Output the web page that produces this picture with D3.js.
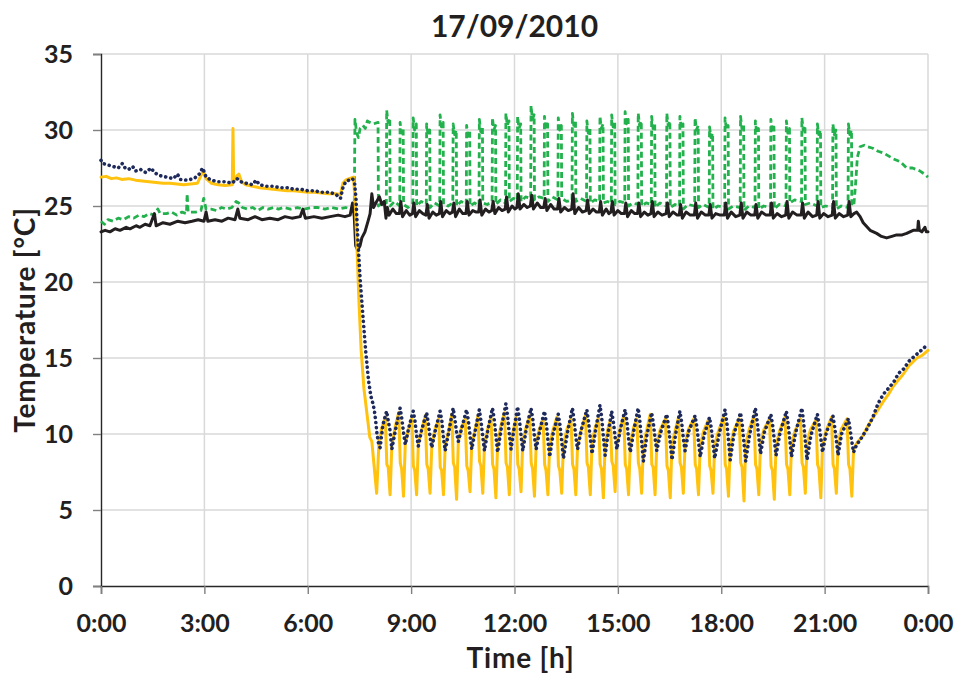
<!DOCTYPE html>
<html>
<head>
<meta charset="utf-8">
<script src="https://cdn.jsdelivr.net/npm/d3@7/dist/d3.min.js"></script>
<style>
  body { margin: 0; background: #ffffff; }
  svg { display: block; }
  text { font-family: Lato, "Open Sans", sans-serif; font-weight: 700; fill: #231f20; }
</style>
</head>
<body>
<svg id="chart" width="958" height="677"></svg>
<script>
// ---- chart text and ticks ----
const chartTitle = "17/09/2010";
const xTitle = "Time [h]";
const yTitle = "Temperature [°C]";
const xTickHours = [0, 3, 6, 9, 12, 15, 18, 21, 24];
const xTickLabels = ["0:00", "3:00", "6:00", "9:00", "12:00", "15:00", "18:00", "21:00", "0:00"];
const yTickValues = [0, 5, 10, 15, 20, 25, 30, 35];

// ---- measured temperatures: [hour of day, °C] ----
// gold solid line
const goldLine = [
  [0.00,26.9],[0.15,26.95],[0.30,26.8],[0.45,26.85],[0.60,26.75],[0.80,26.8],[1.00,26.7],[1.20,26.65],[1.40,26.6],[1.60,26.55],
  [1.80,26.5],[2.00,26.5],[2.20,26.45],[2.40,26.4],[2.60,26.45],[2.80,26.5],[2.92,27.1],[2.97,27.3],[3.05,26.8],[3.20,26.5],
  [3.40,26.4],[3.60,26.35],[3.81,26.4],[3.83,30.1],[3.85,26.6],[3.95,27.0],[4.00,27.1],[4.08,26.6],[4.20,26.4],[4.40,26.3],
  [4.60,26.2],[4.80,26.15],[5.00,26.1],[5.20,26.05],[5.40,26.0],[5.60,26.0],[5.80,25.95],[6.00,25.9],[6.20,25.9],[6.40,25.85],
  [6.60,25.8],[6.80,25.8],[6.95,25.75],[7.02,26.5],[7.10,26.7],[7.20,26.8],[7.33,26.9],[7.38,25.0],[7.43,22.2],[7.49,18.5],
  [7.55,15.5],[7.63,13.0],[7.72,11.3],[7.80,9.8],[7.86,9.5],[8.00,6.1],[8.07,9.6],[8.15,10.4],
  [8.25,11.1],[8.295,8.0],[8.335,7.8],[8.39,6.0],[8.44,9.2],[8.53,10.4],
  [8.64,11.4],[8.685,8.1],[8.725,7.7],[8.78,5.9],[8.83,9.3],[8.92,10.3],
  [9.02,11.0],[9.065,7.9],[9.105,7.6],[9.16,6.0],[9.21,9.4],[9.30,10.2],
  [9.41,11.2],[9.455,8.0],[9.495,7.7],[9.55,6.1],[9.60,9.2],[9.69,10.3],
  [9.80,11.0],[9.845,7.8],[9.885,7.6],[9.94,6.0],[9.99,9.3],[10.08,10.1],
  [10.18,11.3],[10.225,8.1],[10.265,7.8],[10.32,5.7],[10.37,9.5],[10.46,10.4],
  [10.57,11.0],[10.615,7.9],[10.655,7.6],[10.71,6.2],[10.76,9.3],[10.85,10.2],
  [10.94,11.2],[10.985,8.2],[11.025,7.9],[11.08,6.1],[11.13,9.4],[11.22,10.3],
  [11.32,11.1],[11.365,8.0],[11.405,7.7],[11.46,5.8],[11.51,9.3],[11.60,10.5],
  [11.71,11.4],[11.755,8.1],[11.795,7.8],[11.85,6.0],[11.90,9.6],[11.98,10.4],
  [12.05,11.1],[12.095,8.0],[12.135,7.7],[12.19,6.2],[12.24,9.5],[12.33,10.4],
  [12.44,11.2],[12.485,8.1],[12.525,7.7],[12.58,5.9],[12.63,9.4],[12.72,10.3],
  [12.83,11.0],[12.875,8.0],[12.915,7.6],[12.97,6.0],[13.02,9.2],[13.11,10.2],
  [13.23,11.1],[13.275,7.9],[13.315,7.6],[13.37,6.1],[13.42,9.3],[13.52,10.3],
  [13.64,11.0],[13.685,8.0],[13.725,7.7],[13.78,6.0],[13.83,9.2],[13.93,10.2],
  [14.06,11.2],[14.105,8.1],[14.145,7.8],[14.20,6.0],[14.25,9.4],[14.34,10.4],
  [14.44,11.1],[14.485,8.0],[14.525,7.7],[14.58,5.8],[14.63,9.3],[14.71,10.3],
  [14.78,10.9],[14.825,8.2],[14.865,7.9],[14.92,6.2],[14.97,9.4],[15.06,10.3],
  [15.17,11.2],[15.215,8.0],[15.255,7.7],[15.31,6.0],[15.36,9.3],[15.45,10.4],
  [15.55,11.0],[15.595,8.1],[15.635,7.7],[15.69,6.1],[15.74,9.2],[15.83,10.2],
  [15.94,11.3],[15.985,8.0],[16.025,7.8],[16.08,6.0],[16.13,9.4],[16.23,10.3],
  [16.38,11.0],[16.425,7.9],[16.465,7.6],[16.52,5.8],[16.57,9.3],[16.66,10.2],
  [16.76,11.1],[16.805,8.1],[16.845,7.8],[16.90,6.1],[16.95,9.4],[17.05,10.3],
  [17.20,11.0],[17.245,8.0],[17.285,7.7],[17.34,6.0],[17.39,9.2],[17.49,10.2],
  [17.62,10.9],[17.665,7.9],[17.705,7.6],[17.76,6.1],[17.81,9.3],[17.92,10.2],
  [18.07,11.1],[18.115,8.0],[18.155,7.7],[18.21,5.9],[18.26,9.2],[18.36,10.2],
  [18.52,11.0],[18.565,8.1],[18.605,7.8],[18.66,5.6],[18.71,9.3],[18.81,10.3],
  [18.95,11.2],[18.995,8.0],[19.035,7.7],[19.09,6.0],[19.14,9.4],[19.24,10.3],
  [19.40,11.0],[19.445,7.9],[19.485,7.6],[19.54,5.7],[19.59,9.2],[19.69,10.2],
  [19.85,11.1],[19.895,8.0],[19.935,7.7],[19.99,6.0],[20.04,9.3],[20.14,10.2],
  [20.30,11.0],[20.345,8.1],[20.385,7.8],[20.44,6.1],[20.49,9.4],[20.59,10.3],
  [20.75,10.9],[20.795,8.0],[20.835,7.7],[20.89,5.8],[20.94,9.2],[21.04,10.2],
  [21.20,11.1],[21.245,8.0],[21.285,7.7],[21.34,6.1],[21.39,9.3],[21.48,10.3],
  [21.65,11.0],[21.695,8.0],[21.735,7.7],[21.79,5.9],[21.84,9.0],[21.93,9.4],
  [22.12,9.9],[22.25,10.5],[22.40,11.05],[22.55,11.6],[22.69,12.1],[22.85,12.6],[22.98,13.1],[23.12,13.5],
  [23.27,13.9],[23.45,14.5],[23.68,15.0],[23.85,15.2],[24.00,15.5]
];

// navy dotted line
const navyDots = [
  [0.00,28.0],[0.05,27.8],[0.20,27.7],[0.35,27.6],[0.50,27.5],[0.62,27.8],[0.70,27.5],[0.80,27.4],[0.92,27.6],[1.00,27.3],
  [1.15,27.4],[1.30,27.2],[1.45,27.5],[1.55,27.2],[1.70,27.0],[1.90,26.9],[2.10,26.8],[2.22,27.1],[2.30,26.75],[2.50,26.7],
  [2.70,26.8],[2.85,27.1],[2.95,27.5],[3.05,26.9],[3.20,26.7],[3.40,26.6],[3.60,26.6],[3.80,26.5],[3.95,26.8],[4.05,26.6],
  [4.20,26.5],[4.40,26.4],[4.50,26.7],[4.60,26.4],[4.80,26.3],[5.00,26.3],[5.20,26.2],[5.40,26.2],[5.60,26.1],[5.80,26.1],
  [6.00,26.0],[6.20,26.0],[6.40,25.9],[6.60,25.9],[6.80,25.8],
  [6.95,25.5],[7.02,26.2],[7.10,26.6],[7.20,26.7],[7.30,26.8],[7.36,26.5],[7.40,25.5],[7.45,23.0],[7.52,20.2],[7.60,17.8],
  [7.68,15.5],[7.76,13.6],[7.83,12.5],[7.88,12.1],[7.93,11.6],[7.97,10.9],[8.01,10.0],[8.06,9.3],[8.10,9.1],[8.18,10.6],
  [8.29,11.5],[8.34,10.8],[8.39,10.2],[8.44,9.0],[8.54,10.2],
  [8.68,11.7],[8.73,11.0],[8.78,10.1],[8.83,9.3],[8.93,10.4],
  [9.06,11.5],[9.11,10.9],[9.16,9.9],[9.21,9.2],[9.31,10.3],
  [9.45,11.4],[9.50,10.7],[9.55,9.8],[9.60,9.1],[9.70,10.2],
  [9.84,11.5],[9.89,10.9],[9.94,9.7],[9.99,8.9],[10.09,10.1],
  [10.22,11.7],[10.27,11.0],[10.32,10.1],[10.37,9.5],[10.47,10.4],
  [10.61,11.6],[10.66,10.9],[10.71,9.9],[10.76,9.0],[10.86,10.2],
  [10.98,11.6],[11.03,10.8],[11.08,9.8],[11.13,8.9],[11.23,10.3],
  [11.36,11.7],[11.41,11.0],[11.46,9.9],[11.51,8.8],[11.61,10.3],
  [11.75,12.0],[11.80,11.2],[11.85,10.0],[11.90,9.0],[11.99,10.4],
  [12.09,11.8],[12.14,11.0],[12.19,9.9],[12.24,8.9],[12.34,10.3],
  [12.48,11.7],[12.53,11.0],[12.58,9.8],[12.63,9.0],[12.73,10.2],
  [12.87,11.5],[12.92,10.8],[12.97,9.6],[13.02,8.5],[13.12,10.0],
  [13.27,11.3],[13.32,10.6],[13.37,9.5],[13.42,8.4],[13.53,10.0],
  [13.68,11.7],[13.73,10.9],[13.78,9.8],[13.83,9.0],[13.94,10.3],
  [14.10,11.6],[14.15,10.8],[14.20,9.7],[14.25,8.7],[14.35,10.2],
  [14.48,11.9],[14.53,11.1],[14.58,9.8],[14.63,8.6],[14.72,10.1],
  [14.82,11.5],[14.87,10.8],[14.92,9.8],[14.97,9.0],[15.07,10.3],
  [15.21,11.6],[15.26,10.9],[15.31,9.7],[15.36,8.8],[15.46,10.2],
  [15.59,11.7],[15.64,10.8],[15.69,9.5],[15.74,8.2],[15.84,9.9],
  [15.98,11.4],[16.03,10.7],[16.08,9.7],[16.13,8.9],[16.24,10.1],
  [16.42,11.3],[16.47,10.5],[16.52,9.4],[16.57,8.3],[16.67,9.9],
  [16.80,11.5],[16.85,10.8],[16.90,9.7],[16.95,8.9],[17.06,10.2],
  [17.24,11.2],[17.29,10.5],[17.34,9.5],[17.39,8.5],[17.50,9.9],
  [17.66,11.1],[17.71,10.4],[17.76,9.4],[17.81,8.4],[17.93,9.9],
  [18.11,11.6],[18.16,10.8],[18.21,9.6],[18.26,8.3],[18.37,10.0],
  [18.56,11.4],[18.61,10.6],[18.66,9.4],[18.71,8.2],[18.82,9.9],
  [18.99,11.7],[19.04,10.9],[19.09,9.8],[19.14,8.7],[19.25,10.1],
  [19.44,11.3],[19.49,10.6],[19.54,9.6],[19.59,8.6],[19.70,10.0],
  [19.89,11.5],[19.94,10.7],[19.99,9.6],[20.04,8.5],[20.15,10.0],
  [20.34,11.7],[20.39,10.8],[20.44,9.5],[20.49,8.3],[20.60,9.9],
  [20.79,11.3],[20.84,10.6],[20.89,9.7],[20.94,8.8],[21.05,10.1],
  [21.24,11.2],[21.29,10.5],[21.34,9.6],[21.39,8.6],[21.49,10.0],
  [21.69,11.0],[21.74,10.3],[21.79,9.5],[21.84,8.8],
  [21.93,9.3],[22.03,9.6],[22.22,10.3],[22.40,11.1],[22.55,12.0],[22.70,12.6],[22.85,13.0],[23.00,13.4],
  [23.15,14.0],[23.30,14.3],[23.45,14.8],[23.65,15.2],[23.85,15.6],[24.00,15.9]
];

// green dashed line
const greenDashes = [
  [0.00,24.0],[0.10,23.8],[0.20,24.1],[0.35,24.0],[0.50,24.2],[0.65,24.1],[0.80,24.3],[0.95,24.2],[1.10,24.4],[1.25,24.3],
  [1.40,24.5],[1.55,24.4],[1.65,24.8],[1.72,24.5],[1.90,24.5],[2.05,24.6],[2.20,24.4],[2.35,24.6],[2.48,24.5],[2.50,25.8],
  [2.53,24.6],[2.75,24.6],[2.90,24.7],[2.98,25.5],[3.05,24.8],[3.20,24.8],[3.35,24.7],[3.50,24.9],[3.65,24.8],[3.80,24.9],
  [3.92,25.3],[4.00,25.2],[4.10,24.9],[4.25,24.8],[4.40,24.9],[4.55,24.7],[4.70,24.9],[4.85,24.8],[5.00,24.9],[5.15,24.8],
  [5.30,24.9],[5.50,24.8],[5.70,24.9],[5.90,24.8],[6.10,24.9],[6.30,24.9],[6.50,24.8],[6.70,24.9],[6.90,24.8],[7.10,24.9],
  [7.25,24.8],[7.35,25.0],[7.37,30.7],[7.42,29.8],[7.47,29.5],[7.52,30.1],[7.60,30.3],[7.67,30.1],[7.73,30.6],[7.80,30.5],
  [7.90,30.4],[8.04,30.5],[8.05,25.0],[8.15,25.2],
  [8.28,25.2],[8.29,31.3],[8.33,30.5],[8.38,30.8],[8.39,25.0],[8.52,25.3],
  [8.67,25.0],[8.68,30.5],[8.72,29.8],[8.77,30.1],[8.78,25.1],[8.91,24.9],
  [9.05,25.2],[9.06,30.8],[9.10,30.0],[9.15,30.4],[9.16,25.0],[9.29,25.3],
  [9.44,25.1],[9.45,30.4],[9.49,29.7],[9.54,30.0],[9.55,24.9],[9.68,25.2],
  [9.83,25.0],[9.84,31.0],[9.88,30.2],[9.93,30.5],[9.94,25.1],[10.07,25.0],
  [10.21,25.2],[10.22,30.4],[10.26,29.7],[10.31,30.0],[10.32,25.0],[10.45,25.3],
  [10.60,25.1],[10.61,30.3],[10.65,29.6],[10.70,29.9],[10.71,25.0],[10.84,25.2],
  [10.97,25.0],[10.98,30.7],[11.02,29.9],[11.07,30.2],[11.08,25.2],[11.21,25.1],
  [11.35,25.3],[11.36,30.8],[11.40,30.0],[11.45,30.3],[11.46,25.1],[11.59,25.4],
  [11.74,25.2],[11.75,31.1],[11.79,30.3],[11.84,30.6],[11.85,25.3],[11.97,25.5],
  [12.08,25.4],[12.09,30.9],[12.13,30.1],[12.18,30.4],[12.19,25.3],[12.32,25.6],
  [12.47,25.5],[12.48,31.6],[12.52,30.7],[12.57,31.0],[12.58,25.4],[12.71,25.6],
  [12.86,25.5],[12.87,30.9],[12.91,30.1],[12.96,30.4],[12.97,25.3],[13.10,25.6],
  [13.26,25.4],[13.27,30.8],[13.31,30.0],[13.36,30.3],[13.37,25.5],[13.51,25.3],
  [13.67,25.4],[13.68,31.1],[13.72,30.3],[13.77,30.6],[13.78,25.3],[13.92,25.5],
  [14.09,25.3],[14.10,30.6],[14.14,29.8],[14.19,30.1],[14.20,25.2],[14.33,25.4],
  [14.47,25.3],[14.48,30.9],[14.52,30.1],[14.57,30.4],[14.58,25.2],[14.70,25.3],
  [14.81,25.2],[14.82,31.0],[14.86,30.2],[14.91,30.5],[14.92,25.1],[15.05,25.3],
  [15.20,25.2],[15.21,31.2],[15.25,30.4],[15.30,30.7],[15.31,25.0],[15.44,25.2],
  [15.58,25.1],[15.59,31.1],[15.63,30.3],[15.68,30.6],[15.69,25.0],[15.82,25.2],
  [15.97,25.1],[15.98,30.9],[16.02,30.1],[16.07,30.4],[16.08,24.9],[16.22,25.2],
  [16.41,25.0],[16.42,31.1],[16.46,30.3],[16.51,30.6],[16.52,24.9],[16.66,25.1],
  [16.79,25.0],[16.80,30.9],[16.84,30.1],[16.89,30.4],[16.90,24.8],[17.04,25.1],
  [17.23,25.0],[17.24,30.8],[17.28,30.0],[17.33,30.3],[17.34,24.9],[17.48,25.1],
  [17.65,24.9],[17.66,30.2],[17.70,29.5],[17.75,29.8],[17.76,24.8],[17.91,25.0],
  [18.10,24.9],[18.11,30.8],[18.15,30.0],[18.20,30.3],[18.21,24.8],[18.35,25.0],
  [18.55,24.9],[18.56,30.9],[18.60,30.1],[18.65,30.4],[18.66,24.7],[18.80,25.0],
  [18.98,24.9],[18.99,30.6],[19.03,29.8],[19.08,30.1],[19.09,24.8],[19.23,25.0],
  [19.43,24.9],[19.44,30.7],[19.48,29.9],[19.53,30.2],[19.54,24.8],[19.68,25.1],
  [19.88,25.0],[19.89,30.6],[19.93,29.8],[19.98,30.1],[19.99,25.2],[20.13,25.4],
  [20.33,25.3],[20.34,30.8],[20.38,30.0],[20.43,30.3],[20.44,25.1],[20.58,25.2],
  [20.78,25.0],[20.79,30.4],[20.83,29.7],[20.88,30.0],[20.89,24.9],[21.03,25.0],
  [21.23,24.9],[21.24,30.4],[21.28,29.7],[21.33,30.0],[21.34,24.8],[21.48,25.0],
  [21.68,24.9],[21.69,30.4],[21.73,29.7],[21.78,30.0],[21.79,25.0],
  [21.85,25.1],[21.90,26.5],[21.95,28.2],[22.03,28.9],[22.15,29.0],[22.25,28.9],[22.40,28.8],[22.55,28.6],
  [22.70,28.5],[22.85,28.3],[23.00,28.1],[23.20,27.9],[23.38,27.5],[23.55,27.5],[23.77,27.3],[23.90,27.1],[24.00,26.9]
];

// black solid line
const blackLine = [
  [0.00,23.3],[0.12,23.4],[0.26,23.3],[0.41,23.5],[0.55,23.4],[0.73,23.6],[0.84,23.5],[1.02,23.7],[1.13,23.6],[1.28,23.8],
  [1.42,23.7],[1.55,24.5],[1.60,23.7],[1.80,23.9],[2.00,23.8],[2.23,24.0],[2.44,23.9],[2.64,24.0],[2.82,24.1],[2.99,24.0],
  [3.05,24.6],[3.10,24.0],[3.31,24.1],[3.51,24.0],[3.69,24.2],[3.89,24.1],[3.97,24.8],[4.03,24.2],[4.27,24.1],[4.47,24.3],
  [4.67,24.1],[4.90,24.2],[5.14,24.1],[5.34,24.3],[5.54,24.2],[5.78,24.3],[5.86,24.8],[5.93,24.2],[6.18,24.3],[6.41,24.2],
  [6.65,24.3],[6.88,24.4],[7.08,24.3],[7.23,24.4],[7.30,25.2],[7.35,24.3],[7.39,22.4],[7.45,22.1],[7.52,22.4],[7.57,22.9],
  [7.66,23.3],[7.75,24.0],[7.81,24.5],[7.86,25.8],[7.91,24.9],[8.00,25.3],[8.08,25.6],[8.15,25.1],[8.22,25.3],
  [8.27,24.2],[8.31,24.9],[8.36,24.4],[8.47,24.8],[8.57,24.5],
  [8.66,24.5],[8.70,25.3],[8.75,24.3],[8.86,24.7],[8.96,24.4],
  [9.04,24.5],[9.08,25.2],[9.13,24.3],[9.24,24.7],[9.34,24.5],
  [9.43,24.4],[9.47,25.1],[9.52,24.2],[9.63,24.6],[9.73,24.4],
  [9.82,24.5],[9.86,25.3],[9.91,24.3],[10.02,24.7],[10.12,24.5],
  [10.20,24.6],[10.24,25.2],[10.29,24.3],[10.40,24.8],[10.50,24.5],
  [10.59,24.5],[10.63,25.3],[10.68,24.4],[10.79,24.7],[10.89,24.6],
  [10.96,24.6],[11.00,25.4],[11.05,24.4],[11.16,24.8],[11.26,24.6],
  [11.34,24.7],[11.38,25.3],[11.43,24.5],[11.54,24.9],[11.64,24.7],
  [11.73,24.8],[11.77,25.6],[11.82,24.6],[11.93,25.0],[12.01,24.8],
  [12.07,24.9],[12.11,25.8],[12.16,24.8],[12.27,25.1],[12.37,24.9],
  [12.46,25.0],[12.50,25.7],[12.55,24.8],[12.66,25.2],[12.76,24.9],
  [12.85,24.9],[12.89,25.5],[12.94,24.7],[13.05,25.1],[13.15,24.8],
  [13.25,24.8],[13.29,25.5],[13.34,24.6],[13.45,24.9],[13.56,24.7],
  [13.66,24.8],[13.70,25.8],[13.75,24.5],[13.86,24.9],[13.97,24.6],
  [14.08,24.7],[14.12,25.4],[14.17,24.5],[14.28,24.8],[14.38,24.6],
  [14.46,24.6],[14.50,25.3],[14.55,24.4],[14.66,24.8],[14.74,24.5],
  [14.80,24.6],[14.84,25.3],[14.89,24.4],[15.00,24.7],[15.10,24.5],
  [15.19,24.5],[15.23,25.2],[15.28,24.3],[15.39,24.7],[15.49,24.5],
  [15.57,24.5],[15.61,25.2],[15.66,24.3],[15.77,24.6],[15.87,24.4],
  [15.96,24.5],[16.00,25.3],[16.05,24.3],[16.16,24.6],[16.28,24.4],
  [16.40,24.5],[16.44,25.2],[16.49,24.3],[16.60,24.6],[16.72,24.4],
  [16.78,24.4],[16.82,25.1],[16.87,24.2],[16.98,24.6],[17.10,24.4],
  [17.22,24.4],[17.26,25.2],[17.31,24.2],[17.42,24.6],[17.54,24.4],
  [17.64,24.4],[17.68,25.1],[17.73,24.2],[17.84,24.5],[17.97,24.4],
  [18.09,24.4],[18.13,25.2],[18.18,24.2],[18.29,24.6],[18.42,24.3],
  [18.54,24.4],[18.58,25.2],[18.63,24.2],[18.74,24.6],[18.86,24.4],
  [18.97,24.4],[19.01,25.1],[19.06,24.2],[19.17,24.6],[19.30,24.4],
  [19.42,24.4],[19.46,25.2],[19.51,24.2],[19.62,24.5],[19.75,24.3],
  [19.87,24.4],[19.91,25.3],[19.96,24.2],[20.07,24.6],[20.20,24.4],
  [20.32,24.4],[20.36,25.2],[20.41,24.2],[20.52,24.6],[20.65,24.3],
  [20.77,24.4],[20.81,25.3],[20.86,24.2],[20.97,24.5],[21.10,24.3],
  [21.22,24.4],[21.26,25.3],[21.31,24.2],[21.42,24.5],[21.55,24.3],
  [21.67,24.4],[21.71,25.3],[21.76,24.3],[21.85,24.5],
  [21.93,24.6],[22.03,24.3],[22.12,23.9],[22.32,23.4],[22.51,23.2],[22.65,23.0],[22.80,22.9],[22.95,23.0],
  [23.09,23.1],[23.25,23.1],[23.38,23.2],[23.57,23.4],[23.70,23.4],[23.72,24.0],[23.75,23.4],[23.82,23.3],
  [23.91,23.6],[23.95,23.3],[24.00,23.3]
];

// ---- layout ----
const width = 958, height = 677;
const margin = { top: 54, right: 30, bottom: 91, left: 101 };
const plotW = width - margin.left - margin.right;
const plotH = height - margin.top - margin.bottom;

const svg = d3.select("#chart");
const g = svg.append("g").attr("transform", `translate(${margin.left},${margin.top})`);

const x = d3.scaleLinear().domain([0, 24]).range([0, plotW]);
const y = d3.scaleLinear().domain([0, 35]).range([plotH, 0]);

// gridlines
g.append("g").selectAll("line.h").data(yTickValues.filter(v => v > 0)).join("line")
  .attr("x1", 0).attr("x2", plotW)
  .attr("y1", d => y(d)).attr("y2", d => y(d))
  .attr("stroke", "#d9d9d9").attr("stroke-width", 1.5);
g.append("g").selectAll("line.v").data(xTickHours.filter(v => v > 0)).join("line")
  .attr("x1", d => x(d)).attr("x2", d => x(d))
  .attr("y1", 0).attr("y2", plotH)
  .attr("stroke", "#d9d9d9").attr("stroke-width", 1.5);

// axes
const yAxis = g.append("g")
  .call(d3.axisLeft(y).tickValues(yTickValues).tickSize(8).tickPadding(20).tickFormat(d3.format("d")));
const xAxis = g.append("g").attr("transform", `translate(0,${plotH})`)
  .call(d3.axisBottom(x).tickValues(xTickHours).tickSize(8).tickPadding(20).tickFormat((d, i) => xTickLabels[i]));
[yAxis, xAxis].forEach(a => {
  a.select(".domain").attr("stroke", "#262626").attr("stroke-width", 1.4);
  a.selectAll(".tick line").attr("stroke", "#808080").attr("stroke-width", 1.4);
  a.selectAll(".tick text").attr("font-size", 25).attr("fill", "#231f20")
    .style("font-family", "Lato, 'Open Sans', sans-serif").style("font-weight", 700);
});

// series
const line = d3.line().x(d => x(d[0])).y(d => y(d[1]));
const series = [
  { data: greenDashes, color: "#22b14c", width: 2.8, dash: "6 3.5", cap: "butt" },
  { data: blackLine,   color: "#231f20", width: 3,   dash: null,    cap: "round" },
  { data: goldLine,    color: "#ffc20e", width: 3,   dash: null,    cap: "round" },
  { data: navyDots,    color: "#1d2a5b", width: 3.6, dash: "0.1 5", cap: "round" }
];
g.append("g").selectAll("path").data(series).join("path")
  .attr("d", d => line(d.data))
  .attr("fill", "none")
  .attr("stroke", d => d.color)
  .attr("stroke-width", d => d.width)
  .attr("stroke-dasharray", d => d.dash)
  .attr("stroke-linecap", d => d.cap)
  .attr("stroke-linejoin", "round");

// titles
svg.append("text").attr("x", margin.left + plotW / 2).attr("y", 37)
  .attr("text-anchor", "middle").attr("font-size", 30).text(chartTitle);
svg.append("text").attr("x", margin.left + plotW / 2 + 6).attr("y", 668)
  .attr("text-anchor", "middle").attr("font-size", 28).attr("letter-spacing", 0.8).text(xTitle);
svg.append("text").attr("transform", `translate(35,${margin.top + plotH / 2}) rotate(-90)`)
  .attr("text-anchor", "middle").attr("font-size", 28).attr("letter-spacing", 0.8).text(yTitle);
</script>
</body>
</html>
